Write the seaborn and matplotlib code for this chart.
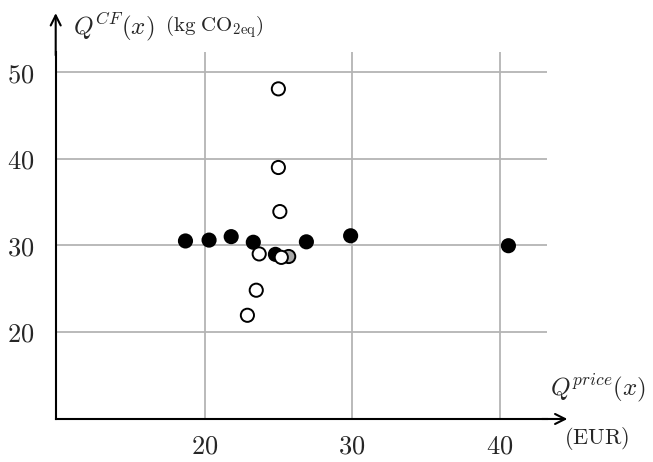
"""Scatter of carbon footprint vs price (Q^CF vs Q^price)."""
import matplotlib
matplotlib.use("Agg")
import matplotlib.pyplot as plt
import pandas as pd
import seaborn as sns

# filled (black) points
filled_price = [18.7, 20.3, 21.8, 23.3, 24.8, 26.9, 29.9, 40.6]
filled_cf = [30.5, 30.6, 31.0, 30.35, 28.95, 30.4, 31.1, 29.95]
# grey point, mostly hidden
gray_price = [25.7]
gray_cf = [28.7]
# open (white) points
open_price = [25.0, 25.0, 25.1, 23.7, 25.2, 23.5, 22.9]
open_cf = [48.1, 39.0, 33.9, 29.0, 28.6, 24.8, 21.9]

x_ticks = [20, 30, 40]
y_ticks = [20, 30, 40, 50]

df = pd.DataFrame({
    "price": filled_price + gray_price + open_price,
    "cf": filled_cf + gray_cf + open_cf,
    "kind": (["filled"] * len(filled_price) + ["gray"] * len(gray_price)
             + ["open"] * len(open_price)),
})

sns.set_style("white")
plt.rcParams["mathtext.fontset"] = "cm"
plt.rcParams["font.family"] = ["DejaVu Serif"]

fig = plt.figure(figsize=(6.53, 4.62), dpi=100)
ax = fig.add_axes([0.0853, 0.0931, 0.752, 0.795])

sns.scatterplot(
    data=df, x="price", y="cf", hue="kind",
    palette={"filled": "black", "gray": "#a8a8a8", "open": "white"},
    edgecolor="black", linewidth=1.4, s=90, legend=False, ax=ax,
    zorder=3, clip_on=False)

ax.set_xlim(9.9, 43.2)
ax.set_ylim(9.9, 52.4)
ax.set_xticks(x_ticks)
ax.set_yticks(y_ticks)
ax.set_xticklabels([f"${t}$" for t in x_ticks], fontsize=19)
ax.set_yticklabels([f"${t}$" for t in y_ticks], fontsize=19)
ax.grid(True, color="#b4b4b4", linewidth=1.3)
ax.set_axisbelow(True)
ax.tick_params(axis="x", direction="out", length=5.5, width=1.3,
               color="black", pad=5)
ax.tick_params(axis="y", direction="out", length=6.5, width=1.3,
               color="black", pad=9)
ax.set_xlabel("")
ax.set_ylabel("")

for side in ["top", "right"]:
    ax.spines[side].set_visible(False)
for side in ["left", "bottom"]:
    ax.spines[side].set_color("black")
    ax.spines[side].set_linewidth(1.5)

# arrow heads on the axes
ax.annotate("", xy=(1.042, 0), xytext=(0.99, 0), xycoords="axes fraction",
            arrowprops=dict(arrowstyle="->", color="black", lw=1.5,
                            mutation_scale=18, shrinkA=0, shrinkB=0))
ax.annotate("", xy=(0, 1.105), xytext=(0, 0.99), xycoords="axes fraction",
            arrowprops=dict(arrowstyle="->", color="black", lw=1.5,
                            mutation_scale=18, shrinkA=0, shrinkB=0))

# axis labels
fig.text(73 / 653, 1 - 27 / 462, r"$Q^{CF}(x)$", fontsize=18,
         ha="left", va="center")
fig.text(165 / 653, 1 - 27 / 462, r"$(\mathrm{kg\ CO_{2eq}})$",
         fontsize=15, ha="left", va="center")
fig.text(598 / 653, 1 - 388 / 462, r"$Q^{price}(x)$", fontsize=18,
         ha="center", va="center")
fig.text(597 / 653, 1 - 439 / 462, r"$(\mathrm{EUR})$", fontsize=16,
         ha="center", va="center")

fig.savefig("out.png", dpi=100)
